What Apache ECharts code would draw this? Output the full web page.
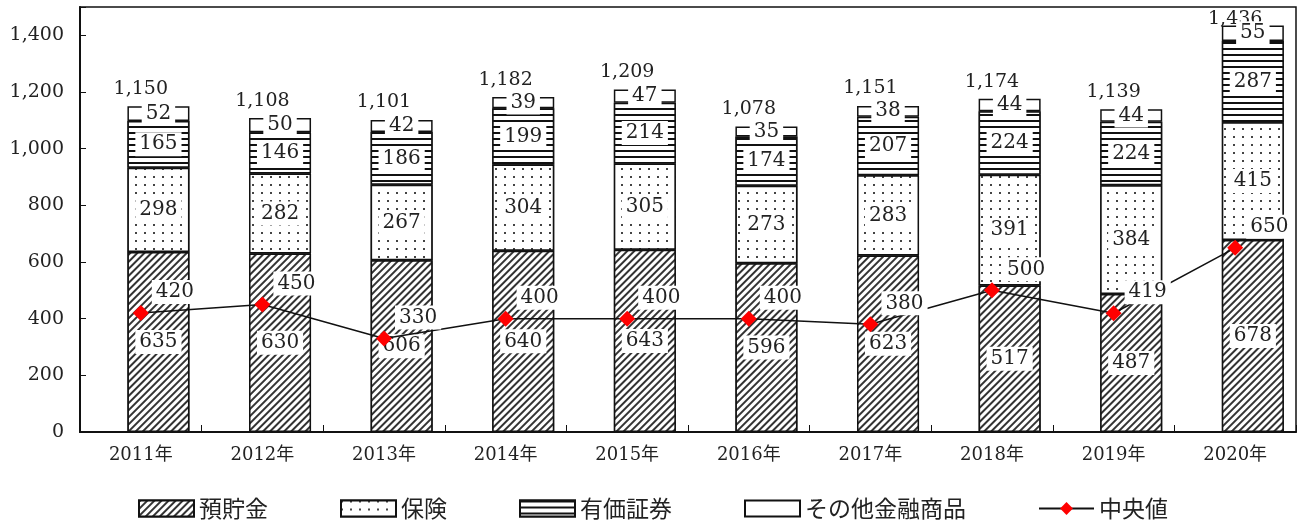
<!DOCTYPE html>
<html><head><meta charset="utf-8">
<script src="https://cdn.jsdelivr.net/npm/echarts@6/dist/echarts.min.js"></script>
<style>html,body{margin:0;padding:0;background:#fff}#c{width:1306px;height:525px}</style>
</head><body><div id="c"></div>
<script>
const categories = ['2011年','2012年','2013年','2014年','2015年','2016年','2017年','2018年','2019年','2020年'];
const deposits = [635,630,606,640,643,596,623,517,487,678];
const insurance = [298,282,267,304,305,273,283,391,384,415];
const securities = [165,146,186,199,214,174,207,224,224,287];
const others = [52,50,42,39,47,35,38,44,44,55];
const totals = [1150,1108,1101,1182,1209,1078,1151,1174,1139,1436];
const median = [420,450,330,400,400,400,380,500,419,650];
const yTicks = [0,200,400,600,800,1000,1200,1400];

const FONT = "'DejaVu Serif','Liberation Serif','Noto Sans CJK JP',serif";
const fmt = v => String(v).replace(/\B(?=(\d{3})+(?!\d))/g, ',');
const segLabel = {show:true, position:'inside', color:'#222', fontFamily:FONT, fontSize:20,
  backgroundColor:'#fff', padding:[2,4]};
const border = {borderColor:'#111', borderWidth:1.5};

// total label sits closer to the bar when the bar reaches the plot top
const totalData = totals.map(v => v > 1400 ? {value:v, label:{distance:-3}} : v);

const chart = echarts.init(document.getElementById('c'));
chart.setOption({
  animation:false,
  textStyle:{fontFamily:FONT},
  grid:{left:80, right:10, top:7, bottom:93, show:true, borderColor:'#111', borderWidth:1.5},
  legend:{bottom:0, left:'center', itemWidth:55, itemHeight:16, itemGap:72,
    textStyle:{fontSize:23, color:'#222', fontFamily:"'Noto Sans CJK JP',sans-serif"},
    data:[{name:'預貯金', icon:'rect'},{name:'保険', icon:'rect'},{name:'有価証券', icon:'rect'},
          {name:'その他金融商品', icon:'rect'},{name:'中央値'}]},
  xAxis:{type:'category', data:categories,
    axisLine:{lineStyle:{color:'#111', width:2}},
    axisTick:{show:true, inside:true, length:7, lineStyle:{color:'#111'}},
    axisLabel:{fontSize:18, color:'#222', margin:14, fontFamily:FONT}},
  yAxis:{type:'value', min:0, max:1500, interval:200,
    axisLine:{show:true, lineStyle:{color:'#111', width:2}},
    axisTick:{show:true, inside:true, length:6, lineStyle:{color:'#111'}},
    splitLine:{show:false},
    axisLabel:{fontSize:19, color:'#222', margin:16, fontFamily:FONT,
      formatter:v => yTicks.includes(v) ? fmt(v) : ''}},
  series:[
    {name:'預貯金', type:'bar', stack:'a', barWidth:'51%', data:deposits,
      itemStyle:Object.assign({color:'#fff', decal:{symbol:'rect', color:'#333', backgroundColor:'#fff',
        dashArrayX:[1,0], dashArrayY:[2,3], rotation:-Math.PI/4, symbolSize:1}}, border),
      label:segLabel},
    {name:'保険', type:'bar', stack:'a', data:insurance,
      itemStyle:Object.assign({color:'#fff', decal:{symbol:'rect', color:'#444', backgroundColor:'#fff',
        dashArrayX:[[2,7]], dashArrayY:[2,6], symbolSize:1}}, border),
      label:segLabel},
    {name:'有価証券', type:'bar', stack:'a', data:securities,
      itemStyle:Object.assign({color:'#fff', decal:{symbol:'rect', color:'#111', backgroundColor:'#fff',
        dashArrayX:[1,0], dashArrayY:[2,3.5], symbolSize:1}}, border),
      label:segLabel},
    {name:'その他金融商品', type:'bar', stack:'a', data:others,
      itemStyle:Object.assign({color:'#fff'}, border),
      label:segLabel},
    {name:'合計', type:'bar', barGap:'-100%', data:totalData, silent:true, z:1,
      itemStyle:{color:'rgba(0,0,0,0)'},
      label:{show:true, position:'top', distance:8, color:'#222', fontFamily:FONT, fontSize:19,
        formatter:p => fmt(p.value)}},
    {name:'中央値', type:'line', data:median, z:10, symbol:'diamond', symbolSize:16,
      lineStyle:{color:'#111', width:1.5}, itemStyle:{color:'#ff0000'},
      label:{show:true, position:'right', distance:5, offset:[-2,-21], color:'#222', fontFamily:FONT,
        fontSize:20, backgroundColor:'#fff', padding:[2,4]}}
  ]
});
</script></body></html>
